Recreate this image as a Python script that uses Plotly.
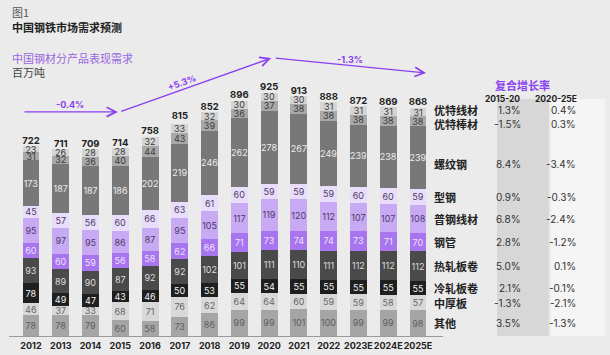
import plotly.graph_objects as go

years = ["2012", "2013", "2014", "2015", "2016", "2017", "2018", "2019", "2020",
         "2021", "2022", "2023E", "2024E", "2025E"]
others = [78, 78, 79, 60, 58, 73, 86, 99, 99, 101, 100, 99, 99, 98]
plate = [46, 37, 33, 68, 71, 76, 62, 64, 64, 60, 59, 59, 58, 57]
cold_rolled = [78, 49, 47, 43, 46, 50, 53, 55, 54, 55, 55, 55, 55, 55]
hot_rolled = [93, 89, 90, 87, 92, 92, 102, 101, 111, 110, 111, 112, 112, 112]
pipe = [60, 60, 59, 56, 58, 62, 66, 71, 73, 74, 74, 73, 71, 70]
wire_rod = [95, 97, 95, 86, 87, 95, 105, 117, 119, 120, 112, 107, 107, 108]
sections = [45, 57, 56, 60, 66, 63, 61, 60, 59, 59, 59, 60, 60, 59]
rebar = [173, 187, 187, 186, 202, 219, 246, 262, 278, 267, 249, 239, 238, 239]
special_bar = [31, 32, 36, 40, 44, 43, 39, 36, 37, 38, 38, 38, 38, 38]
special_wire = [23, 26, 28, 28, 32, 33, 32, 30, 30, 30, 31, 31, 31, 31]
totals = [722, 711, 709, 714, 758, 815, 852, 896, 925, 913, 888, 872, 869, 868]

names = ["其他", "中厚板", "冷轧板卷", "热轧板卷", "钢管", "普钢线材", "型钢", "螺纹钢", "优特棒材", "优特线材"]
cagr_1520 = ["3.5%", "-1.3%", "2.1%", "5.0%", "2.8%", "6.8%", "0.9%", "8.4%", "-1.5%", "1.3%"]
cagr_2025 = ["-1.3%", "-2.1%", "-0.1%", "0.1%", "-1.2%", "-2.4%", "-0.3%", "-3.4%", "0.3%", "0.4%"]
period_labels = ["-0.4%", "+5.3%", "-1.3%"]

series = [others, plate, cold_rolled, hot_rolled, pipe, wire_rod, sections, rebar, special_bar, special_wire]
colors = ["#a5a5a5", "#d8d8d8", "#1f1f1f", "#4a4a4a", "#a875ef", "#c7a9f4", "#e8ddfb",
          "#787878", "#a8a8a8", "#d4d4d4"]
text_colors = ["#5e5e5e", "#666666", "#f0f0f0", "#dddddd", "#ece2fc", "#4b3e66", "#4b4060",
               "#ececec", "#3a3a3a", "#3a3a3a"]

W, H = 610, 355
BG = "#ebebeb"
PURPLE = "#8a3ff0"
FONT = "Inter, Roboto, 'Noto Sans CJK SC', sans-serif"
CJK = "'Noto Sans CJK SC', sans-serif"

def px(x):
    return x / W

def py(y):
    return 1 - y / H

xs = list(range(len(years)))
fig = go.Figure()
for s, nm, c, tc in zip(series, names, colors, text_colors):
    fig.add_trace(go.Bar(
        x=xs, y=s, name=nm, marker=dict(color=c, line=dict(width=0)),
        width=0.57, text=[str(v) for v in s], textposition="inside",
        insidetextanchor="middle", textangle=0,
        textfont=dict(color=tc, size=9, family=FONT), hoverinfo="skip",
    ))

fig.add_trace(go.Scatter(
    x=xs, y=totals, mode="text", text=[f"<b>{t}</b>" for t in totals],
    textposition="top center", textfont=dict(size=9.5, color="#222222", family=FONT),
    cliponaxis=False, hoverinfo="skip", showlegend=False,
))

annotations = []
shapes = []

# Titles
annotations += [
    dict(x=px(10), y=py(12), xref="paper", yref="paper", text="图1", showarrow=False,
         xanchor="left", yanchor="middle", font=dict(size=11, color="#555555", family=CJK)),
    dict(x=px(10), y=py(27), xref="paper", yref="paper", text="<b>中国钢铁市场需求预测</b>",
         showarrow=False, xanchor="left", yanchor="middle",
         font=dict(size=11, color="#222222", family=CJK)),
    dict(x=px(10), y=py(58), xref="paper", yref="paper", text="中国钢材分产品表现需求",
         showarrow=False, xanchor="left", yanchor="middle",
         font=dict(size=11, color="#9a66de", family=CJK)),
    dict(x=px(10), y=py(72), xref="paper", yref="paper", text="百万吨",
         showarrow=False, xanchor="left", yanchor="middle",
         font=dict(size=11, color="#444444", family=CJK)),
]

# Period arrows (data coordinates)
arrows = [(-0.27, 852, 2.92, 852), (2.98, 852, 8.07, 1057), (8.17, 1057, 13.27, 1000)]
for (x0, y0, x1, y1) in arrows:
    annotations.append(dict(x=x1, y=y1, ax=x0, ay=y0, xref="x", yref="y", axref="x", ayref="y",
                            showarrow=True, arrowhead=5, arrowsize=1.3, arrowwidth=1.4,
                            arrowcolor=PURPLE, text=""))
lab_pos = [(1.3, 880, 0), (5.05, 965, -20), (10.7, 1050, 0)]
for (lx, ly, ang), t in zip(lab_pos, period_labels):
    annotations.append(dict(x=lx, y=ly, xref="x", yref="y", text=f"<b>{t}</b>", showarrow=False,
                            textangle=ang, font=dict(size=9, color=PURPLE, family=FONT)))

# Table columns
shapes.append(dict(type="rect", xref="paper", yref="paper", x0=px(497), x1=px(549),
                   y0=py(336), y1=py(99), fillcolor="#d7d7d7", line=dict(width=0), layer="below"))
shapes.append(dict(type="rect", xref="paper", yref="paper", x0=px(551), x1=px(605),
                   y0=py(336), y1=py(99), fillcolor="#f5f5f5", line=dict(width=0), layer="below"))
annotations += [
    dict(x=px(552), y=py(75), xref="paper", yref="paper", text="<b>复合增长率</b>", showarrow=False,
         font=dict(size=11, color="#8a3ff0", family=CJK)),
    dict(x=px(522), y=py(92), xref="paper", yref="paper", text="<b>2015-20</b>", showarrow=False,
         font=dict(size=8.5, color="#222222", family=FONT)),
    dict(x=px(579), y=py(92), xref="paper", yref="paper", text="<b>2020-25E</b>", showarrow=False,
         font=dict(size=8.5, color="#222222", family=FONT)),
]

# Category labels and CAGR values aligned to the 2025E segments
last = [s[-1] for s in series]
cum = 0
centers = []
for v in last:
    centers.append(cum + v / 2)
    cum += v
centers[7] -= 25  # 螺纹钢 label sits slightly below centre
centers[8] -= 12
centers[9] += 6
for nm, yc, a, b in zip(names, centers, cagr_1520, cagr_2025):
    annotations.append(dict(x=px(432), y=yc, xref="paper", yref="y", text=f"<b>{nm}</b>",
                            showarrow=False, xanchor="left",
                            font=dict(size=11, color="#222222", family=CJK)))
    annotations.append(dict(x=px(523), y=yc, xref="paper", yref="y", text=a, showarrow=False,
                            font=dict(size=10, color="#333333", family=FONT)))
    annotations.append(dict(x=px(578), y=yc, xref="paper", yref="y", text=b, showarrow=False,
                            font=dict(size=10, color="#333333", family=FONT)))

fig.update_layout(
    width=W, height=H, barmode="stack", showlegend=False,
    paper_bgcolor=BG, plot_bgcolor=BG,
    margin=dict(l=0, r=0, t=0, b=0),
    annotations=annotations, shapes=shapes,
    uniformtext=dict(minsize=9, mode="show"),
    xaxis=dict(domain=[px(9), px(443)], range=[-0.739, 13.84], tickvals=xs,
               ticktext=[f"<b>{y}</b>" for y in years], showgrid=False, zeroline=False,
               showline=True, linecolor="#9a9a9a", linewidth=1, ticks="", tickangle=0,
               ticklabelstandoff=1,
               tickfont=dict(size=9, color="#222222", family=FONT), automargin=False,
               fixedrange=True),
    yaxis=dict(domain=[19 / H, 1], range=[0, 336 / 0.263], visible=False, fixedrange=True),
)

fig.write_html("out.html", config={"displayModeBar": False},
               post_script="document.body.style.margin='0';document.body.style.background='#ebebeb';")
